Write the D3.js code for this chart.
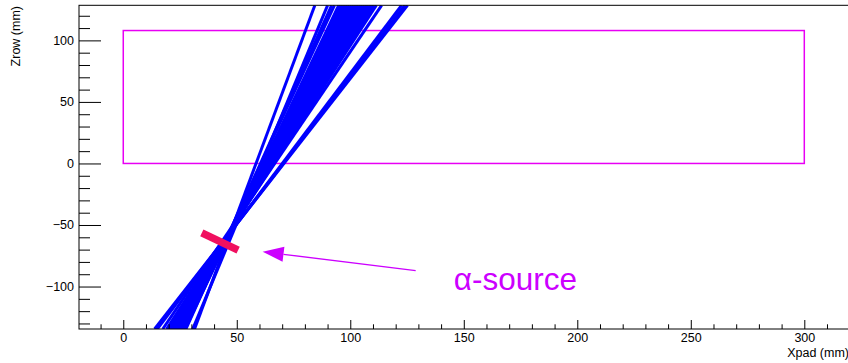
<!DOCTYPE html>
<html>
<head>
<meta charset="utf-8">
<script src="https://cdn.jsdelivr.net/npm/d3@7"></script>
<style>
  html, body { margin: 0; padding: 0; background: #fff; }
  svg { display: block; font-family: "Liberation Sans", Arial, Helvetica, sans-serif; }
</style>
</head>
<body>
<svg id="chart" width="848" height="363"></svg>
<script>
// Axis ranges (mm)
const xDomain = [-19.5, 320];
const zDomain = [-134.5, 128.5];

// Tick labels
const xMajorTicks = [0, 50, 100, 150, 200, 250, 300];
const zMajorTicks = [-100, -50, 0, 50, 100];
const xMinorTicks = d3.range(-10, 320, 10).filter(v => v % 50 !== 0);
const zMinorTicks = d3.range(-130, 130, 10).filter(v => v % 50 !== 0);

// Fitted tracks: x position where each track crosses the bottom (z = -134.5)
// and top (z = 128.5) of the displayed range
const trackTopX = [84.4, 90.0, 91.8, 93.0, 94.9, 95.7, 96.5, 97.3, 98.1, 98.9, 99.7, 100.6,
                   101.4, 102.2, 103.0, 103.8, 104.7, 105.5, 106.3, 107.1, 107.9, 108.8,
                   109.6, 110.4, 111.5, 113.8, 122.6, 124.0, 125.2];
const trackBottomX = [31.4, 30.6, 27.6, 27.0, 27.2, 26.8, 26.4, 26.0, 25.5, 25.2, 24.7, 24.4,
                      23.9, 23.5, 23.1, 22.7, 22.3, 21.9, 21.5, 21.1, 20.7, 20.3,
                      19.9, 19.5, 19.1, 17.4, 15.0, 14.4, 13.8];

// Pad plane outline (mm)
const padX = [0, 300];
const padZ = [0, 108];

// Alpha source bar and annotation
const sourceStart = [34.6, -56.4];
const sourceEnd = [50.6, -70.4];
const arrowFrom = [128.8, -87.1];
const arrowTo = [61.4, -71.7];
const labelPos = [145.6, -102.8];
const labelText = "α-source";

const margin = { left: 79, top: 5.3, right: 849.7, bottom: 329 };

const svg = d3.select("#chart");
const x = d3.scaleLinear().domain(xDomain).range([margin.left, margin.right]);
const z = d3.scaleLinear().domain(zDomain).range([margin.bottom, margin.top]);

svg.append("defs").append("clipPath").attr("id", "frameClip")
  .append("rect")
  .attr("x", margin.left).attr("y", margin.top)
  .attr("width", margin.right - margin.left).attr("height", margin.bottom - margin.top);

const plot = svg.append("g").attr("clip-path", "url(#frameClip)");

// Pad plane rectangle
plot.append("rect")
  .attr("x", x(padX[0])).attr("y", z(padZ[1]))
  .attr("width", x(padX[1]) - x(padX[0]))
  .attr("height", z(padZ[0]) - z(padZ[1]))
  .attr("fill", "none")
  .attr("stroke", "#e800f4")
  .attr("stroke-width", 1.5);

// Tracks
plot.append("g").selectAll("line")
  .data(trackTopX.map((t, i) => ({ top: t, bottom: trackBottomX[i] })))
  .join("line")
  .attr("x1", d => x(d.bottom)).attr("y1", z(zDomain[0]))
  .attr("x2", d => x(d.top)).attr("y2", z(zDomain[1]))
  .attr("stroke", "#0000ff")
  .attr("stroke-width", 3);

// Alpha source
plot.append("line")
  .attr("x1", x(sourceStart[0])).attr("y1", z(sourceStart[1]))
  .attr("x2", x(sourceEnd[0])).attr("y2", z(sourceEnd[1]))
  .attr("stroke", "#f01060")
  .attr("stroke-width", 7.5);

// Arrow pointing at the source
const ax1 = x(arrowFrom[0]), ay1 = z(arrowFrom[1]);
const ax2 = x(arrowTo[0]), ay2 = z(arrowTo[1]);
const ang = Math.atan2(ay2 - ay1, ax2 - ax1);
const headLen = 21, headHalf = 7.5;
const bx = ax2 - headLen * Math.cos(ang), by = ay2 - headLen * Math.sin(ang);
plot.append("line")
  .attr("x1", ax1).attr("y1", ay1).attr("x2", bx).attr("y2", by)
  .attr("stroke", "#cc00ff").attr("stroke-width", 1.3);
plot.append("path")
  .attr("d", `M${ax2},${ay2}L${bx - headHalf * Math.sin(ang)},${by + headHalf * Math.cos(ang)}` +
             `L${bx + headHalf * Math.sin(ang)},${by - headHalf * Math.cos(ang)}Z`)
  .attr("fill", "#cc00ff");

plot.append("text")
  .attr("x", x(labelPos[0])).attr("y", z(labelPos[1]))
  .attr("font-size", 31.5)
  .attr("fill", "#cc00ff")
  .text(labelText);

// Frame
svg.append("rect")
  .attr("x", margin.left).attr("y", margin.top)
  .attr("width", margin.right - margin.left).attr("height", margin.bottom - margin.top)
  .attr("fill", "none").attr("stroke", "#000").attr("stroke-width", 1);

// Axes
function styleAxis(g) {
  g.select(".domain").remove();
  g.selectAll("line").attr("stroke", "#000").attr("stroke-width", 1);
  g.selectAll("text").attr("font-size", 12.5).attr("fill", "#000")
    .attr("font-family", "'Liberation Sans', Arial, sans-serif");
}

svg.append("g").attr("transform", `translate(${margin.left},0)`)
  .call(d3.axisLeft(z).tickValues(zMajorTicks).tickFormat(d3.format("")).tickSize(-22).tickPadding(5))
  .call(styleAxis);
svg.append("g").attr("transform", `translate(${margin.left},0)`)
  .call(d3.axisLeft(z).tickValues(zMinorTicks).tickFormat("").tickSize(-11))
  .call(styleAxis);

svg.append("g").attr("transform", `translate(0,${margin.bottom})`)
  .call(d3.axisBottom(x).tickValues(xMajorTicks).tickFormat(d3.format("")).tickSize(-9).tickPadding(4))
  .call(styleAxis)
  .call(g => g.selectAll("text").attr("y", 13).attr("dy", "0"));
svg.append("g").attr("transform", `translate(0,${margin.bottom})`)
  .call(d3.axisBottom(x).tickValues(xMinorTicks).tickFormat("").tickSize(-4.7))
  .call(styleAxis);

// Axis titles
svg.append("text")
  .attr("x", 849).attr("y", 357)
  .attr("text-anchor", "end")
  .attr("font-size", 12.5)
  .text("Xpad (mm)");

svg.append("text")
  .attr("transform", "translate(20,6) rotate(-90)")
  .attr("text-anchor", "end")
  .attr("font-size", 12.5)
  .text("Zrow (mm)");
</script>
</body>
</html>
